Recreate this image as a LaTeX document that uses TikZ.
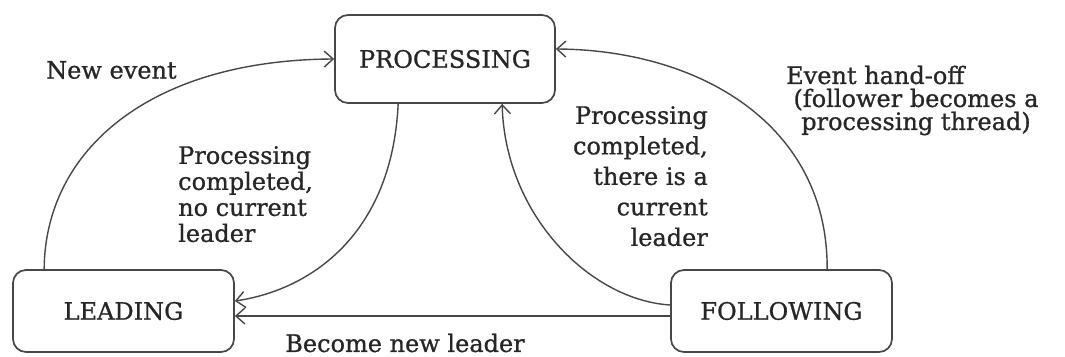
\documentclass[tikz,border=0pt]{standalone}
\usepackage{fontspec}
\setmainfont{DejaVu Serif}[FakeBold=0.9]
\usetikzlibrary{arrows.meta}
\definecolor{ink}{HTML}{262626}
\definecolor{wire}{HTML}{474747}
\begin{document}
\begin{tikzpicture}[x=1pt,y=-1pt,
  state/.style={draw=wire,line width=1.7pt,rounded corners=13pt,text=ink,
    font=\fontsize{24}{28}\selectfont,inner sep=0pt},
  lbl/.style={text=ink,inner sep=0pt,font=\fontsize{24}{28}\selectfont},
  link/.style={draw=wire,line width=1.4pt,-{Straight Barb[length=9pt,width=16pt,line width=1.4pt]}}]
\useasboundingbox (0,0) rectangle (1065,356);

% states
\node[state,minimum width=220pt,minimum height=88pt] (proc) at (445,59) {PROCESSING};
\node[state,minimum width=221pt,minimum height=82pt] (lead) at (123.5,311) {LEADING};
\node[state,minimum width=221pt,minimum height=82pt] (foll) at (781.5,311) {FOLLOWING};

% transitions
\draw[link] ([xshift=32pt]lead.north west)
  .. controls (45,150) and (150,60) .. (proc.west);
\draw[link] ([xshift=64pt]proc.south west)
  .. controls (392,235) and (310,290) .. ([yshift=10pt]lead.east);
\coordinate (fw) at ([yshift=-5pt]foll.west);
\draw[link] (fw) -- (fw -| lead.east);
\draw[link] ([yshift=6pt]foll.west)
  .. controls (590,300) and (505,215) .. ([xshift=168pt]proc.south west);
\draw[link] ([xshift=157pt]foll.north west)
  .. controls (828,125) and (700,50) .. ([yshift=10pt]proc.east);

% labels
\node[lbl,anchor=west] (tnew) at (46,70) {New event};
\node[lbl,anchor=north west,align=left,font=\fontsize{24}{26}\selectfont]
  (tnolead) at (178,146) {Processing\\completed,\\no current\\leader};
\node[lbl,anchor=north east,align=right,font=\fontsize{24}{30.5}\selectfont]
  (tcur) at (708,106) {Processing\\completed,\\there is a\\current\\leader};
\node[lbl,anchor=west] (thand) at (786,75) {Event hand-off};
\node[lbl,align=center,font=\fontsize{24}{23}\selectfont]
  (thread) at (916,112) {(follower becomes a\\processing thread)};
\node[lbl] (tnew2) at (405,343) {Become new leader};
\end{tikzpicture}
\end{document}
